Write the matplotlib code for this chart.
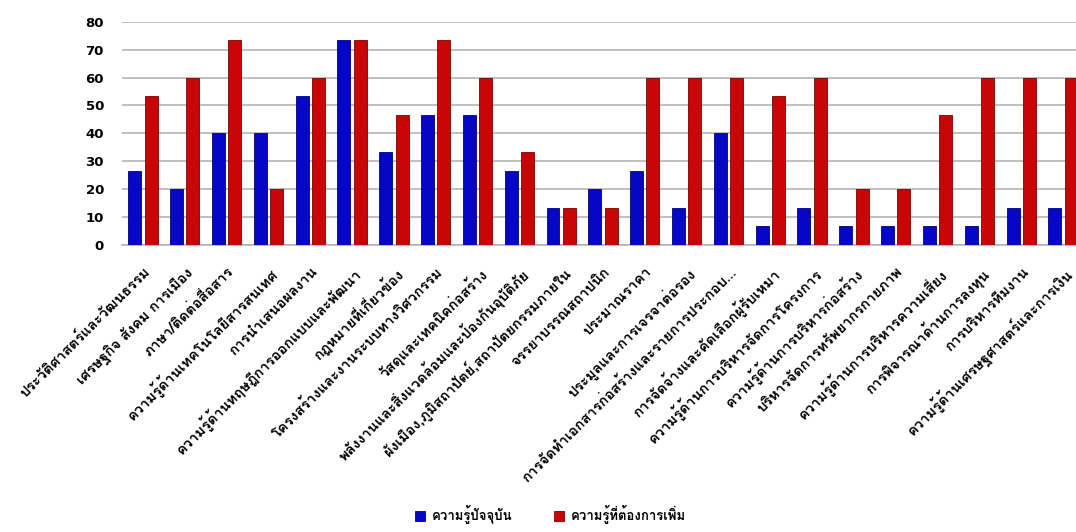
import numpy as np
import matplotlib
matplotlib.use('Agg')
import matplotlib.pyplot as plt
from matplotlib import font_manager
from matplotlib.ft2font import FT2Font

# Knowledge topics (x axis) and the two survey series, in percent
topics = [
    'ประวัติศาสตร์และวัฒนธรรม',
    'เศรษฐกิจ สังคม การเมือง',
    'ภาษา/ติดต่อสื่อสาร',
    'ความรู้ด้านเทคโนโลยีสารสนเทศ',
    'การนำเสนอผลงาน',
    'ความรู้ด้านทฤษฎีการออกแบบและพัฒนา',
    'กฎหมายที่เกี่ยวข้อง',
    'โครงสร้างและงานระบบทางวิศวกรรม',
    'วัสดุและเทคนิคก่อสร้าง',
    'พลังงานและสิ่งแวดล้อมและป้องกันอุบัติภัย',
    'ผังเมือง,ภูมิสถาปัตย์,สถาปัตยกรรมภายใน',
    'จรรยาบรรณสถาปนิก',
    'ประมาณราคา',
    'ประมูลและการเจรจาต่อรอง',
    'การจัดทำเอกสารก่อสร้างและรายการประกอบ…',
    'การจัดจ้างและคัดเลือกผู้รับเหมา',
    'ความรู้ด้านการบริหารจัดการโครงการ',
    'ความรู้ด้านการบริหารก่อสร้าง',
    'บริหารจัดการทรัพยากรกายภาพ',
    'ความรู้ด้านการบริหารความเสี่ยง',
    'การพิจารณาด้านการลงทุน',
    'การบริหารทีมงาน',
    'ความรู้ด้านเศรษฐศาสตร์และการเงิน',
]
current = [26.67, 20, 40, 40, 53.33, 73.33, 33.33, 46.67, 46.67, 26.67, 13.33, 20,
           26.67, 13.33, 40, 6.67, 13.33, 6.67, 6.67, 6.67, 6.67, 13.33, 13.33]
needed = [53.33, 60, 73.33, 20, 60, 73.33, 46.67, 73.33, 60, 33.33, 13.33, 13.33,
          60, 60, 60, 53.33, 60, 20, 20, 46.67, 60, 60, 60]
series_names = ['ความรู้ปัจจุบัน', 'ความรู้ที่ต้องการเพิ่ม']
y_ticks = [0, 10, 20, 30, 40, 50, 60, 70, 80]


def thai_family():
    # first installed family that has Thai glyphs
    for f in font_manager.fontManager.ttflist:
        try:
            if ord('ก') in FT2Font(f.fname).get_charmap():
                return f.name
        except Exception:
            pass
    return 'DejaVu Sans'


thai = thai_family()
plt.rcParams['font.family'] = [thai, 'DejaVu Sans']

fig = plt.figure(figsize=(10.76, 5.32), dpi=100)
ax = fig.add_axes([0.1134, 0.5395, 0.894, 0.4197])

x = np.arange(len(topics))
w = 0.31
ax.bar(x - 0.195, current, w, color='#0606c6', edgecolor='#00007a', linewidth=0.6,
       label=series_names[0], zorder=3)
ax.bar(x + 0.195, needed, w, color='#c80606', edgecolor='#7a0000', linewidth=0.6,
       label=series_names[1], zorder=3)

ax.set_xlim(-0.5, 22.5)
ax.set_ylim(0, 80)
ax.set_yticks(y_ticks)
ax.set_yticklabels([str(t) for t in y_ticks], fontsize=9.5, fontweight='bold',
                   family='DejaVu Sans')
ax.yaxis.grid(True, color='#b4b4b4', linewidth=1.2, zorder=0)
ax.tick_params(axis='y', length=0, pad=13)
ax.tick_params(axis='x', length=0, pad=14)

for s in ['top', 'right', 'left']:
    ax.spines[s].set_visible(False)
ax.spines['bottom'].set_color('#b4b4b4')
ax.spines['bottom'].set_linewidth(1.2)

ax.set_xticks(x)
ax.set_xticklabels(topics, rotation=45, ha='right', va='top', rotation_mode='anchor',
                   fontsize=10.5, fontweight='bold')

fig.legend(loc='lower center', bbox_to_anchor=(0.5115, -0.008), ncol=2, frameon=False,
           prop={'size': 9.5, 'weight': 'bold'}, handlelength=0.8, handleheight=0.8,
           columnspacing=3.1, handletextpad=0.5)

fig.savefig('out.png', dpi=100, facecolor='white')
